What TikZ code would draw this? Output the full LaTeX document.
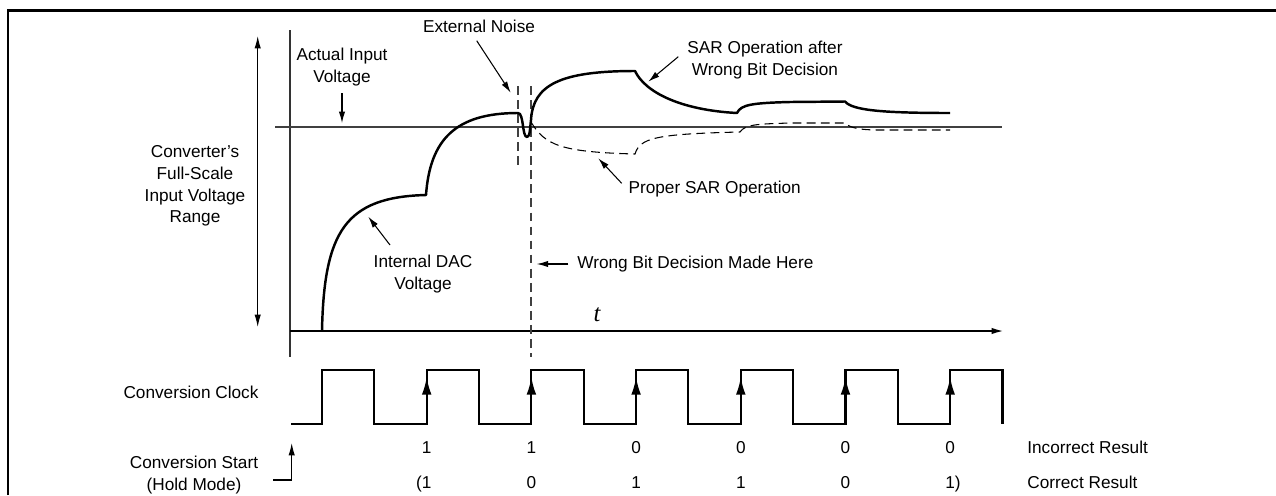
\documentclass[tikz,border=0pt]{standalone}
\usepackage{fontspec}
\setmainfont{Liberation Sans}
\newfontfamily\tfont{Liberation Serif}
\usetikzlibrary{arrows.meta}
\usetikzlibrary{positioning}

\begin{document}
\begin{tikzpicture}[x=0.02cm, y=-0.02cm,
    every node/.style={inner sep=0pt, align=center, font=\fontsize{9.8}{12.4}\selectfont},
    curve/.style={line width=1.4pt, line join=round},
    lead/.style={-{Latex[length=6.5pt,width=3.6pt]}, line width=0.6pt},
    guide/.style={black!75, line width=0.6pt, dash pattern=on 5pt off 3pt}]
    \useasboundingbox (0,0) rectangle (1276,495);
    % frame
    \draw[line width=1.7pt] (8,495) -- (8,10) -- (1276,10);

    % axes
    \coordinate (ytop) at (290,30);
    \coordinate (ybot) at (290,357);
    \coordinate (t0) at (290,331);
    \coordinate (t1) at (1004,331);
    \draw[line width=0.6pt, black!80] (ytop) -- (ybot);
    \draw[line width=1.1pt, -{Latex[length=7pt,width=3.6pt]}] (t0) -- (t1);
    \node (tlbl) at (597,315) {\fontsize{14}{14}\tfont\itshape t};

    % input level
    \coordinate (vin0) at (275,127);
    \coordinate (vin1) at (1002,127);
    \draw[line width=0.7pt, black!75] (vin0) -- (vin1);

    % full-scale range
    \coordinate (rtop) at (257.7,36);
    \coordinate (rbot) at (257.7,327);
    \draw[{Latex[length=7pt,width=3.6pt]}-{Latex[length=7pt,width=3.6pt]}, line width=0.6pt] (rtop) -- (rbot);
    \node (range) at (195,186) {Converter's\\Full-Scale\\Input Voltage\\Range};

    % noise window and decision point
    \coordinate (n0) at (518,86);
    \coordinate (n1) at (518,167);
    \coordinate (w0) at (531,86);
    \coordinate (w1) at (531,357);
    \draw[guide] (n0) -- (n1);
    \draw[guide] (w0) -- (w1);

    % DAC voltage, wrong path
    \draw[curve] (322,331) .. controls (324,232) and (345,197) .. (426,195)
        .. controls (430,140) and (455,113) .. (518,113)
        .. controls (524,113) and (522,137) .. (527,137)
        .. controls (530,137) and (530,128) .. (531,120)
        .. controls (533,85) and (560,71) .. (635,71)
        .. controls (645,92) and (680,110) .. (737,113)
        .. controls (741,105) and (750,103) .. (790,102) -- (845,101.5)
        .. controls (852,110) and (880,113) .. (950,113);
    % proper path
    \draw[line width=0.6pt, dash pattern=on 5pt off 3pt] (531,122)
        .. controls (545,145) and (560,152) .. (635,154)
        .. controls (640,138) and (655,134) .. (740,132)
        .. controls (745,124) and (760,124) .. (790,123) -- (845,123)
        .. controls (850,128) and (860,130) .. (880,130) -- (950,130);

    % labels
    \node (inlbl) at (342,67) {Actual Input\\Voltage};
    \coordinate (inarr) at (342,93);
    \coordinate (inpt) at (342,123);
    \draw[lead] (inarr) -- (inpt);

    \node (noise) at (479,26) {External Noise};
    \coordinate (nsarr) at (476.7,40.7);
    \coordinate (nspt) at (510.7,92.7);
    \draw[lead] (nsarr) -- (nspt);

    \node (sarw) at (765,60) {SAR Operation after\\Wrong Bit Decision};
    \coordinate (swarr) at (678.3,56.7);
    \coordinate (swpt) at (648.3,81.7);
    \draw[lead] (swarr) -- (swpt);

    \node (sarp) at (714.7,189) {Proper SAR Operation};
    \coordinate (sparr) at (621.7,183.3);
    \coordinate (sppt) at (598.3,158.3);
    \draw[lead] (sparr) -- (sppt);

    \node (dac) at (423,274) {Internal DAC\\Voltage};
    \coordinate (dcarr) at (390,245);
    \coordinate (dcpt) at (368.3,216.7);
    \draw[lead] (dcarr) -- (dcpt);

    \node[anchor=west] (wbd) at (577,264) {Wrong Bit Decision Made Here};
    \coordinate (wbpt) at (536.7,264);
    \draw[lead] (wbd.west) ++(-8.7,0) -- (wbpt);

    % clock
    \node (clklbl) at (191,392) {Conversion Clock};
    \draw[line width=1.2pt, line join=miter] (291,424)
        \foreach \k in {0,...,6} { -- ({322+104.7*\k},424) -- ({322+104.7*\k},370)
        -- ({374.3+104.7*\k},370) -- ({374.3+104.7*\k},424) };
    \foreach \k in {1,...,6} {
        \coordinate (e\k) at ({322+104.7*\k},424);
        \coordinate (a\k) at ({322+104.7*\k},377);
        \draw[-{Latex[length=10pt,width=5.5pt]}, line width=1.2pt] (e\k) -- (a\k);
    }

    % conversion start
    \node (start) at (194,475) {Conversion Start\\(Hold Mode)};
    \coordinate (cs0) at (273,480);
    \coordinate (cs1) at (291.7,443);
    \draw[-{Latex[length=7pt,width=3.6pt]}, line width=0.6pt] (cs0) -| (cs1);

    % results
    \foreach \k/\a/\b in {1/1/\llap{(}1, 2/1/0, 3/0/1, 4/0/1, 5/0/0, 6/0/1\rlap{)}} {
        \node[anchor=base] (b\k) at ({322+104.7*\k},453) {\a};
        \node[anchor=base] (c\k) at ({322+104.7*\k},488) {\b};
    }
    \node[anchor=base west] (inc) at (1027,453) {Incorrect Result};
    \node[anchor=base west] (cor) at (1027,488) {Correct Result};
\end{tikzpicture}
\end{document}
